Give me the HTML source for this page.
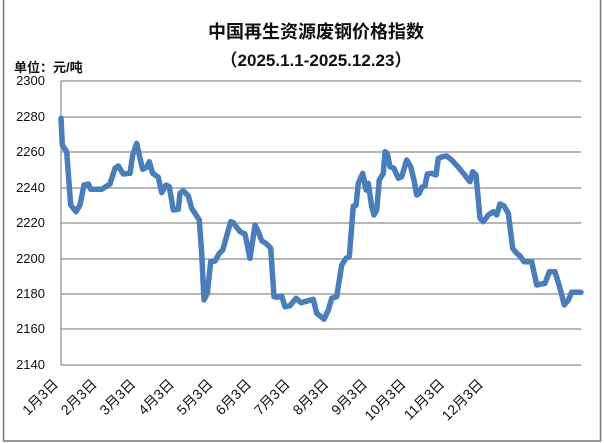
<!DOCTYPE html>
<html><head><meta charset="utf-8"><style>
html,body{margin:0;padding:0;background:#fff;}
svg{display:block;}
</style></head><body>
<svg width="604" height="443" viewBox="0 0 604 443" xmlns="http://www.w3.org/2000/svg" font-family="Liberation Sans, 'Noto Sans CJK SC', sans-serif">
<rect x="0" y="0" width="604" height="443" fill="#fff"/>
<rect x="3.5" y="-2" width="597" height="443" fill="none" stroke="#777" stroke-width="1.5"/>
<text x="316" y="38" text-anchor="middle" font-size="18" font-weight="bold" fill="#111">中国再生资源废钢价格指数</text>
<text x="316" y="66" text-anchor="middle" font-size="17" font-weight="bold" fill="#111">（2025.1.1-2025.12.23）</text>
<text x="14" y="72" font-size="13" font-weight="bold" fill="#111">单位：元/吨</text>
<g stroke="#8c8c8c" stroke-width="1.2">
<line x1="61" y1="81" x2="581" y2="81"/>
<line x1="61" y1="117" x2="581" y2="117"/>
<line x1="61" y1="152" x2="581" y2="152"/>
<line x1="61" y1="188" x2="581" y2="188"/>
<line x1="61" y1="223" x2="581" y2="223"/>
<line x1="61" y1="259" x2="581" y2="259"/>
<line x1="61" y1="294" x2="581" y2="294"/>
<line x1="61" y1="329" x2="581" y2="329"/>
<line x1="61" y1="365" x2="581" y2="365"/>
<line x1="61" y1="81" x2="61" y2="365"/>
</g>
<g font-size="13" fill="#111" text-anchor="end">
<text x="45" y="85">2300</text>
<text x="45" y="121">2280</text>
<text x="45" y="156">2260</text>
<text x="45" y="192">2240</text>
<text x="45" y="227">2220</text>
<text x="45" y="263">2200</text>
<text x="45" y="298">2180</text>
<text x="45" y="333">2160</text>
<text x="45" y="369">2140</text>
</g>
<g font-size="14" fill="#111" text-anchor="end">
<text transform="translate(59,385) rotate(-45)">1月3日</text>
<text transform="translate(97.6,385) rotate(-45)">2月3日</text>
<text transform="translate(136.3,385) rotate(-45)">3月3日</text>
<text transform="translate(174.9,385) rotate(-45)">4月3日</text>
<text transform="translate(213.5,385) rotate(-45)">5月3日</text>
<text transform="translate(252.2,385) rotate(-45)">6月3日</text>
<text transform="translate(290.8,385) rotate(-45)">7月3日</text>
<text transform="translate(329.4,385) rotate(-45)">8月3日</text>
<text transform="translate(368,385) rotate(-45)">9月3日</text>
<text transform="translate(406.7,385) rotate(-45)">10月3日</text>
<text transform="translate(445.3,385) rotate(-45)">11月3日</text>
<text transform="translate(484,385) rotate(-45)">12月3日</text>
</g>
<polyline fill="none" stroke="#4a7ebb" stroke-width="5.5" stroke-linejoin="round" stroke-linecap="round" points="
61,118.3 62.3,145 66.7,151.7 68.3,173.3 70.7,205 76,211.7 80,205 84,185 88.3,184 90.7,189.3 101.7,189.3 110,184 115,168.3 118.3,166 123.3,174 130,173.3 132.7,155 136.7,143.3 140,158.3 142.7,169.3 146.7,167.3 149.3,161.7 152.7,173.3 158.3,177.3 161.7,192.7 166,185 169.3,186.7 173.3,210 178.3,209.3 180,193.3 183.3,190.7 188.3,196 191.7,208.3 195,213.3 199.3,220 201.7,253.3 204,300 207.3,293.3 210.7,261.7 215,261 219.3,253.3 222.7,250 230.7,221.7 233.3,222.7 240,231.7 245,234 250,258.3 255,225 258.3,231.7 261.7,240.7 266.7,244 270.7,248.3 274,296.7 277.3,297.3 281.7,296 285,306.7 290,305.7 296,298.3 301,302.7 308.3,300.7 313.3,299.3 316.7,313.3 324,319.3 328.3,310 331.7,298.3 336.7,296.7 341.7,265 346,258.3 349.3,256.7 353.3,206 356,205.3 358.3,183.3 362.7,173.3 366,190 368.3,183.3 371.7,206.7 374,215 376.7,210 379.3,180 383.3,173.3 385,151.7 387.3,153.3 390,166.7 394,168.3 398.3,178.3 401.7,176.7 406.7,160 410.7,166.7 414,180 416.7,195 419.3,193.3 421.7,187.3 425,186 427.3,174 431.7,173.3 436,175 438.3,158.3 442.7,156.7 446.7,156 451.7,160 459.3,168.3 466,176.7 470,181.7 472.7,171.7 476,175 480,218.3 483.3,221.7 488.3,215 493.3,211.7 496.7,215 500,204 504,206 508.3,213.3 512.7,248.3 516.7,253.3 520,256 524,261.7 528.3,261.7 531.7,261.7 536.7,285 545,283.3 549.3,271.7 555,271.7 560,288.3 564.3,305 568.3,300 571.7,292.3 581,292.3"/>
</svg>
</body></html>
